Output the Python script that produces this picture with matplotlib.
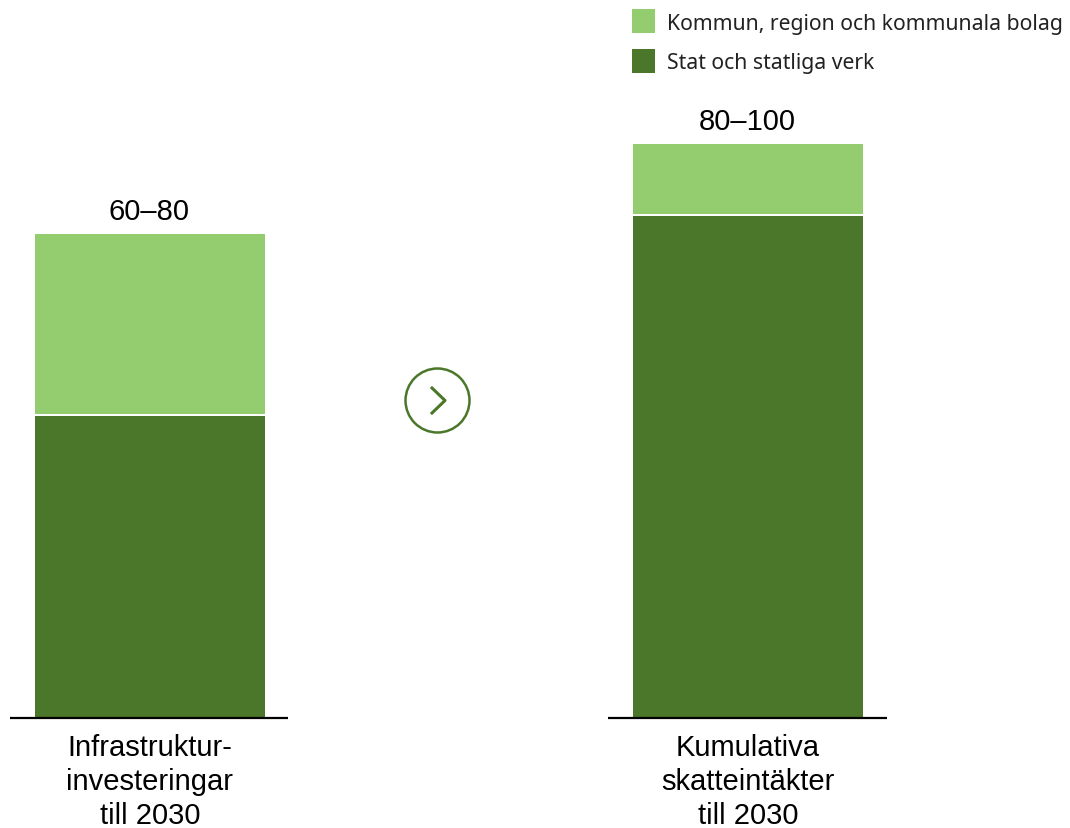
import matplotlib.pyplot as plt
from matplotlib.patches import Circle, Rectangle

categories = ['Infrastruktur-\ninvesteringar\ntill 2030', 'Kumulativa\nskatteintäkter\ntill 2030']
totals = ['60–80', '80–100']
# bar heights in pixels of the reference
stat = [302, 502]
kommun = [180, 70]
legend_labels = ['Kommun, region och kommunala bolag', 'Stat och statliga verk']

dark = '#4a7729'
light = '#94cd6f'
W, H = 1070, 829

plt.rcParams['font.family'] = ['Liberation Sans', 'DejaVu Sans']

fig = plt.figure(figsize=(W / 100, H / 100), dpi=100)
ax = fig.add_axes([0, 0, 1, 1])
ax.set_xlim(0, W)
ax.set_ylim(H, 0)
ax.axis('off')

base = 719
bar_left = [35, 633]
bar_w = 230
axis_span = [(10, 288), (608, 887)]

for i in range(2):
    ax.bar(bar_left[i], -stat[i], bar_w, bottom=base, align='edge', color=dark, lw=0)
    ax.bar(bar_left[i], -kommun[i], bar_w, bottom=base - stat[i] - 2, align='edge', color=light, lw=0)
    ax.plot(axis_span[i], [base, base], color='black', lw=1.6, solid_capstyle='butt')
    xc = bar_left[i] + bar_w / 2
    ax.text(xc - 1, base - stat[i] - kommun[i] - 25.5, totals[i], ha='center', va='center', fontsize=21)
    ax.text(xc, 782, categories[i], ha='center', va='center', fontsize=21, linespacing=1.28)

# legend
ax.add_patch(Rectangle((632, 10), 23, 23.5, color=light, lw=0))
ax.add_patch(Rectangle((632, 50), 23, 23.5, color=dark, lw=0))
ax.text(667, 24, legend_labels[0], va='center', fontsize=15.25, family='Noto Sans', color='#222222')
ax.text(667, 63, legend_labels[1], va='center', fontsize=15.25, family='Noto Sans', color='#222222')

# arrow circle
ax.add_patch(Circle((437.5, 401.5), 32, fill=False, ec=dark, lw=1.8))
ax.plot([432, 445, 432], [389, 401.5, 414], color=dark, lw=2.2)

fig.savefig('out.png', dpi=100)
